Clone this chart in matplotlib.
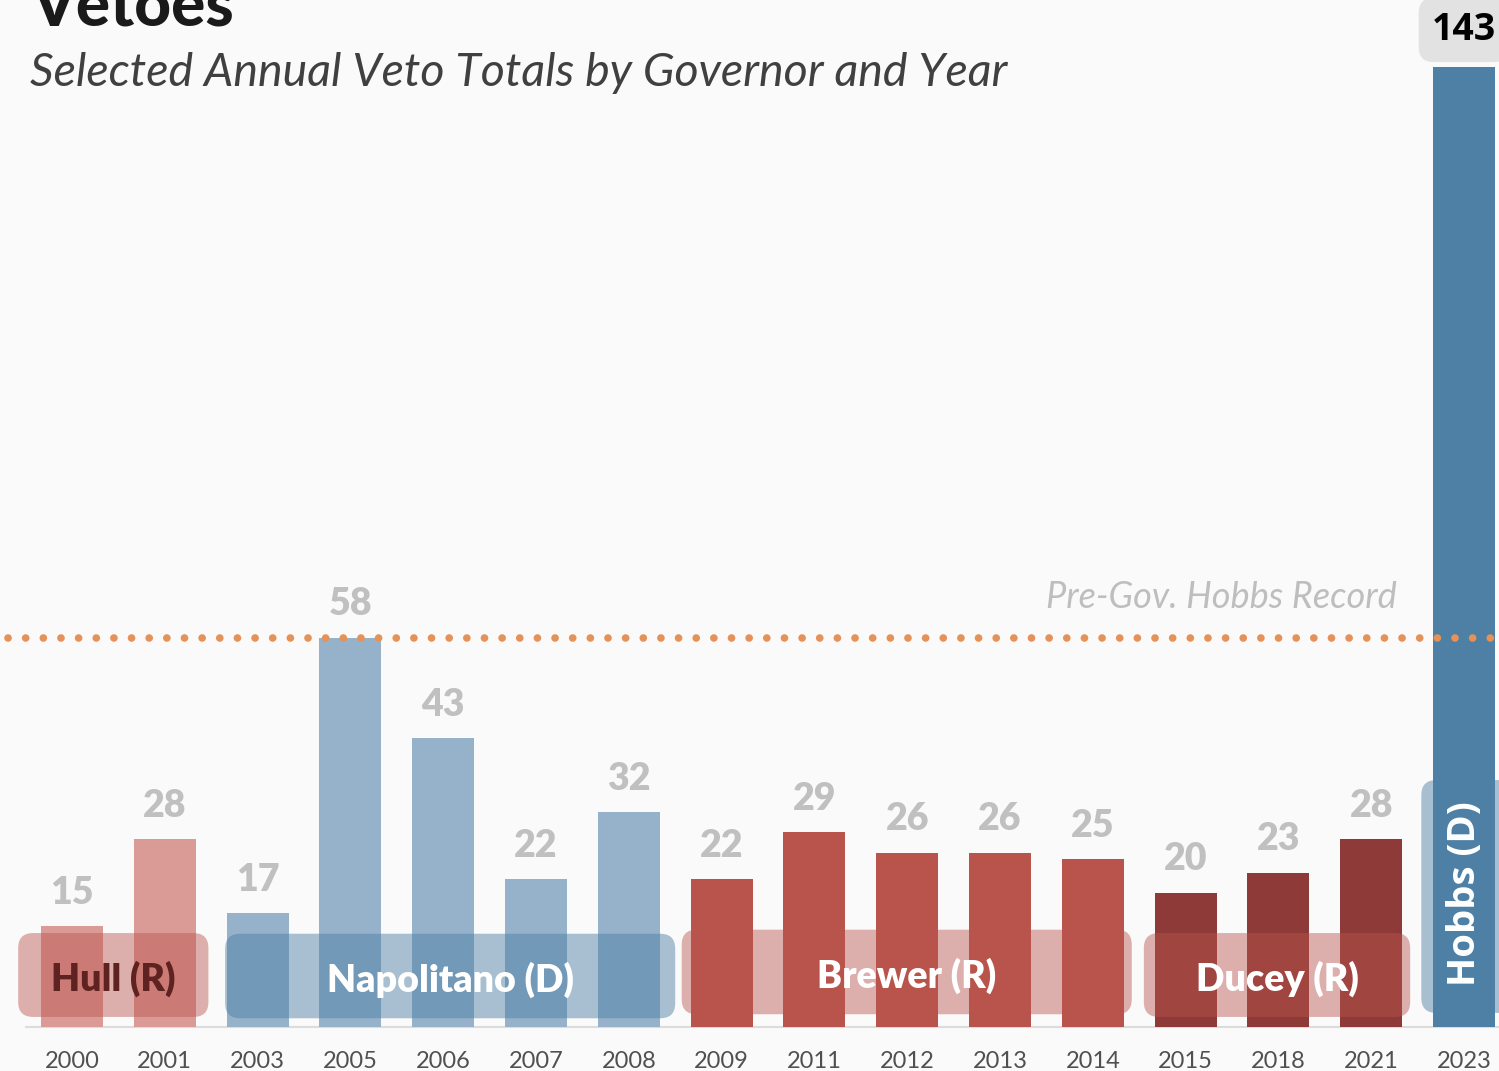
import matplotlib
matplotlib.use("Agg")
import matplotlib.pyplot as plt
from matplotlib.patches import FancyBboxPatch

# ---- data ----
years = ["2000", "2001", "2003", "2005", "2006", "2007", "2008", "2009",
         "2011", "2012", "2013", "2014", "2015", "2018", "2021", "2023"]
vetoes = [15, 28, 17, 58, 43, 22, 32, 22, 29, 26, 26, 25, 20, 23, 28, 143]
governor = ["Hull", "Hull", "Napolitano", "Napolitano", "Napolitano", "Napolitano",
            "Napolitano", "Brewer", "Brewer", "Brewer", "Brewer", "Brewer",
            "Ducey", "Ducey", "Ducey", "Hobbs"]
gov_names = ["Hull", "Napolitano", "Brewer", "Ducey", "Hobbs"]
gov_labels = ["Hull (R)", "Napolitano (D)", "Brewer (R)", "Ducey (R)", "Hobbs (D)"]
record_value = 58
record_label = "Pre-Gov. Hobbs Record"

# ---- style ----
bar_colors = {"Hull": "#da9a96", "Napolitano": "#96b2cb", "Brewer": "#b9544d",
              "Ducey": "#8e3a38", "Hobbs": "#4e7fa4"}
box_colors = {"Hull": "#b9544d", "Napolitano": "#4e7fa4", "Brewer": "#b9544d",
              "Ducey": "#b9544d", "Hobbs": "#4e7fa4"}
box_alpha = {"Hull": 0.45, "Napolitano": 0.48, "Brewer": 0.45, "Ducey": 0.45, "Hobbs": 0.48}
box_on_top = {"Hull": True, "Napolitano": True, "Brewer": False, "Ducey": True, "Hobbs": False}
# box extents relative to group (left pad, right pad, bottom, top in data units)
box_geom = {"Hull": (0.58, 0.47, 1.5, 14.0),
            "Napolitano": (0.35, 0.50, 1.3, 13.9),
            "Brewer": (0.43, 0.42, 1.9, 14.5),
            "Ducey": (0.45, 0.42, 1.5, 14.0),
            "Hobbs": (0.46, 1.5, 2.1, 36.8)}
label_colors = {"Hull": "#5e2320", "Napolitano": "white", "Brewer": "white",
                "Ducey": "white", "Hobbs": "white"}

BG = "#fafafa"
W, H = 1499, 1071
fig = plt.figure(figsize=(W / 100, H / 100), dpi=100, facecolor=BG)

px_per_unit = 6.71
bar_step = 92.8
x0_px = 72
base_px = 1027
left_px = x0_px - bar_step / 2
ax = fig.add_axes([left_px / W, (H - base_px) / H, 1 - left_px / W, base_px / H])
ax.set_facecolor(BG)
ax.set_xlim(-0.5, (W - x0_px) / bar_step)
ax.set_ylim(0, base_px / px_per_unit)

xs = list(range(len(years)))
ax.bar(xs, vetoes, width=0.668, color=[bar_colors[g] for g in governor], zorder=3)

# governor boxes
for name, lab in zip(gov_names, gov_labels):
    idx = [i for i, g in enumerate(governor) if g == name]
    lp, rp, y0, y1 = box_geom[name]
    xa, xb = idx[0] - lp, idx[-1] + rp
    rx = 15 / bar_step
    asp = (15 / px_per_unit) / rx
    patch = FancyBboxPatch((xa, y0), xb - xa, y1 - y0,
                           boxstyle=f"round,pad=0,rounding_size={rx}",
                           mutation_aspect=asp, linewidth=0,
                           facecolor=box_colors[name], alpha=box_alpha[name],
                           zorder=4 if box_on_top[name] else 2, clip_on=False)
    ax.add_patch(patch)
    if name == "Hobbs":
        ax.text(idx[0] + 0.01, (y0 + y1) / 2 + 0.5, lab, rotation=90, ha="center", va="center",
                family="Open Sans", fontweight="bold", fontsize=27.5,
                color=label_colors[name], zorder=6)
    else:
        cx = (idx[0] - lp + idx[-1] + rp) / 2
        ax.text(cx, (y0 + y1) / 2 - 0.5, lab, ha="center", va="center",
                family="Lato", fontweight="heavy", fontsize=27,
                color=label_colors[name], zorder=6)

# value labels
for x, v, g in zip(xs, vetoes, governor):
    if g == "Hobbs":
        ax.annotate(str(v), (x, v), xytext=(0, 27), textcoords="offset points",
                    ha="center", va="center", family="Open Sans", fontweight="bold",
                    fontsize=27, color="black", zorder=7, annotation_clip=False,
                    bbox=dict(boxstyle="round,pad=0.35,rounding_size=0.4",
                              fc="#e2e2e2", ec="none"))
    else:
        ax.annotate(str(v), (x, v), xytext=(0, 24), textcoords="offset points",
                    ha="center", va="center", family="Lato", fontweight="heavy",
                    fontsize=27, color="#c0c0c0", zorder=7)

# record line
ax.axhline(record_value, xmin=-0.012, xmax=1.0, color="#e49258", lw=5.5,
           linestyle=(0, (0.01, 2.3)), dash_capstyle="round", zorder=8, clip_on=False)
ax.annotate(record_label, (14.28, record_value), xytext=(0, 21.5), textcoords="offset points",
            ha="right", va="baseline", family="Lato", style="italic", fontsize=26,
            color="#bebebe", zorder=7)

# axes styling
ax.set_xticks(xs)
ax.set_xticklabels(years, family="Lato", fontsize=17, color="#505050")
ax.tick_params(axis="x", length=0, pad=17.5)
ax.set_yticks([])
for s in ["left", "right", "top"]:
    ax.spines[s].set_visible(False)
ax.spines["bottom"].set_color("#dcdcdc")
ax.spines["bottom"].set_linewidth(1.5)
ax.spines["bottom"].set_zorder(1)

# titles
fig.text(32 / W, 1 - 25 / H, "Vetoes", family="Lato", fontweight="black",
         fontsize=46, color="#1a1a1a", va="baseline", ha="left")
fig.text(30 / W, 1 - 86 / H, "Selected Annual Veto Totals by Governor and Year",
         family="Lato", style="italic", fontsize=33.5, color="#404040",
         va="baseline", ha="left")

fig.savefig("out.png", dpi=100, facecolor=BG)
